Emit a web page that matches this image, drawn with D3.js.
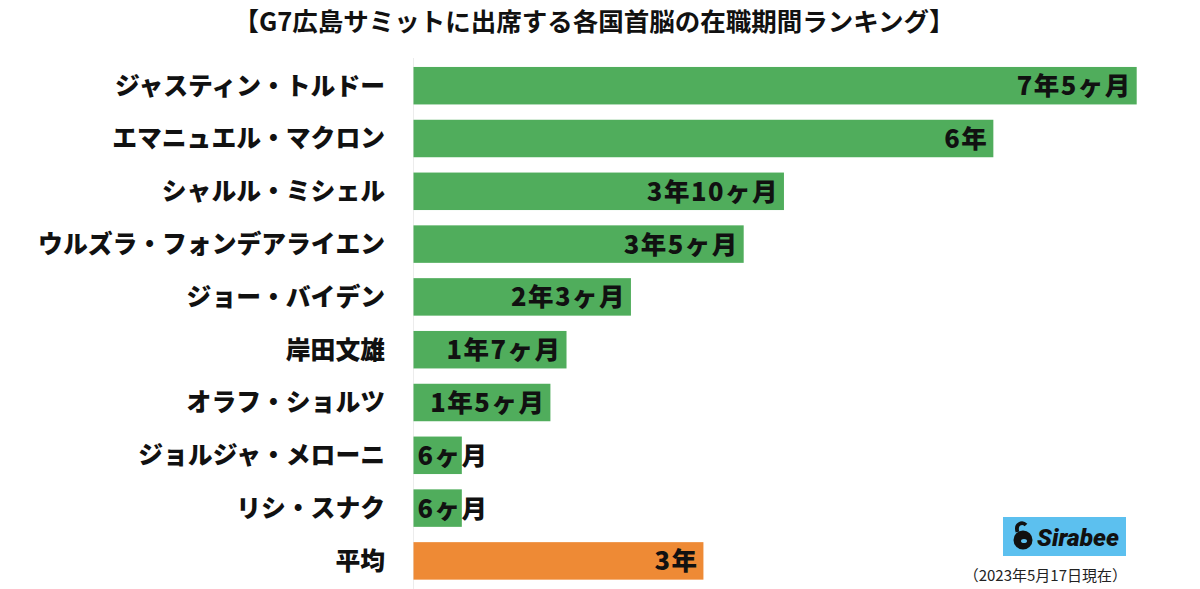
<!DOCTYPE html>
<html><head><meta charset="utf-8">
<script src="https://cdn.jsdelivr.net/npm/d3@7"></script>
<style>
html,body{margin:0;padding:0;background:#fff;}
svg{display:block;font-family:"Noto Sans CJK JP","Noto Sans",sans-serif;}
</style></head>
<body><svg id="c" width="1200" height="589"></svg>
<script>
const titleText = "【G7広島サミットに出席する各国首脳の在職期間ランキング】";
const names = ["ジャスティン・トルドー","エマニュエル・マクロン","シャルル・ミシェル","ウルズラ・フォンデアライエン","ジョー・バイデン","岸田文雄","オラフ・ショルツ","ジョルジャ・メローニ","リシ・スナク","平均"];
const months = [89.8, 72, 46, 41, 27, 19, 17, 6, 6, 36];
const valueLabels = ["7年5ヶ月","6年","3年10ヶ月","3年5ヶ月","2年3ヶ月","1年7ヶ月","1年5ヶ月","6ヶ月","6ヶ月","3年"];
const colors = ["#50ad5c","#50ad5c","#50ad5c","#50ad5c","#50ad5c","#50ad5c","#50ad5c","#50ad5c","#50ad5c","#ee8a35"];
const noteText = "（2023年5月17日現在）";

const svg = d3.select("#c");
const x = d3.scaleLinear().domain([0, 89.8]).range([413.5, 1136.7]);
const y = d3.scaleBand().domain(names).range([59.3, 587.3]).paddingInner(0.29).paddingOuter(0.145);

svg.append("text").attr("x", 594).attr("y", 30.5).attr("text-anchor","middle")
  .attr("font-size", 25.5).attr("font-weight", 700).attr("fill","#111").text(titleText);

// faint axis line
svg.append("line").attr("x1", 413.5).attr("x2", 413.5).attr("y1", 58).attr("y2", 589)
  .attr("stroke", "#ececec").attr("stroke-width", 1);

const rows = svg.selectAll("g.row").data(names).join("g").attr("class","row");
rows.append("rect")
  .attr("x", x(0)).attr("y", d => y(d))
  .attr("width", (d,i) => x(months[i]) - x(0)).attr("height", y.bandwidth())
  .attr("fill", (d,i) => colors[i]);

rows.append("text")
  .attr("x", 385).attr("y", d => y(d) + y.bandwidth()/2)
  .attr("dy", "0.36em").attr("text-anchor","end")
  .attr("font-size", 24.8).attr("font-weight", 900).attr("fill","#111")
  .text(d => d);

const vl = rows.append("text")
  .attr("y", d => y(d) + y.bandwidth()/2).attr("dy","0.37em")
  .attr("text-anchor","end").attr("font-size", 25.5).attr("font-weight", 900)
  .attr("letter-spacing", 1.5).attr("fill","#111")
  .text((d,i) => valueLabels[i]);
vl.each(function(d,i){
  const w = this.getComputedTextLength();
  const xr = Math.max(x(months[i]) - 5, x(0) + 4 + w);
  d3.select(this).attr("x", xr);
});

// Sirabee logo
const lg = svg.append("g").attr("transform","translate(1003,517)");
lg.append("rect").attr("width",123).attr("height",39).attr("fill","#5cc0ef");
lg.append("circle").attr("cx",20).attr("cy",23).attr("r",9.5).attr("fill","#111");
lg.append("path").attr("d","M14.5,15 C12,7 19,4 23,8").attr("stroke","#111").attr("stroke-width",3.8).attr("fill","none");
lg.append("ellipse").attr("cx",21).attr("cy",24).attr("rx",3).attr("ry",2).attr("fill","#5cc0ef");
lg.append("text").attr("x",34).attr("y",29).attr("font-family","Roboto, 'DejaVu Sans', sans-serif")
  .attr("font-style","italic").attr("font-weight",900).attr("font-size",24.5).attr("fill","#111").text("Sirabee");

svg.append("text").attr("x",1127).attr("y",581).attr("text-anchor","end")
  .attr("font-size",15).attr("fill","#222").text(noteText);
</script></body></html>
